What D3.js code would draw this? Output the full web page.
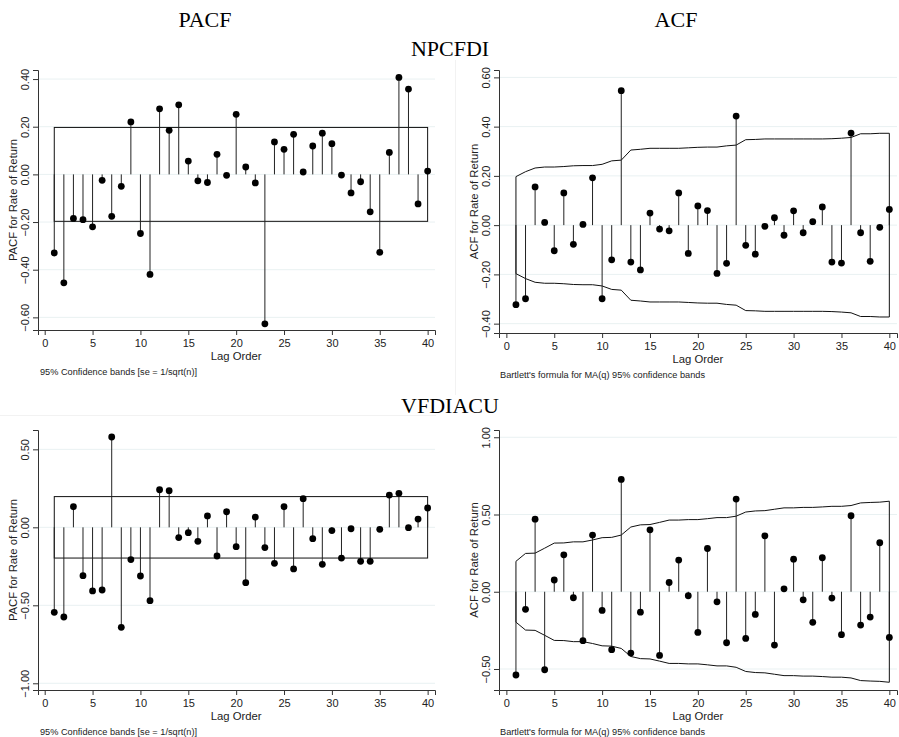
<!DOCTYPE html>
<html>
<head>
<meta charset="utf-8">
<script src="https://cdn.jsdelivr.net/npm/d3@7"></script>
<style>
  body { margin: 0; background: #fff; }
  svg { display: block; }
  text { font-family: "Liberation Sans", Arial, sans-serif; }
  .ttl { font-family: "Liberation Serif", "Times New Roman", serif; font-size: 22px; }
</style>
</head>
<body>
<div id="chart"></div>
<script>
// lags 1..40
var lags = d3.range(1, 41);

// NPCFDI
var npcPacf = [-0.33, -0.455, -0.185, -0.19, -0.22, -0.025, -0.176, -0.05, 0.22, -0.248,
  -0.42, 0.275, 0.185, 0.292, 0.056, -0.027, -0.034, 0.084, -0.004, 0.252,
  0.031, -0.036, -0.627, 0.136, 0.105, 0.168, 0.01, 0.119, 0.173, 0.129,
  -0.003, -0.078, -0.031, -0.157, -0.327, 0.092, 0.407, 0.358, -0.124, 0.014];
var npcAcf = [-0.323, -0.299, 0.155, 0.011, -0.104, 0.131, -0.078, 0.003, 0.192, -0.299,
  -0.141, 0.546, -0.15, -0.182, 0.049, -0.016, -0.023, 0.131, -0.115, 0.078,
  0.059, -0.196, -0.155, 0.443, -0.082, -0.118, -0.005, 0.03, -0.041, 0.058,
  -0.031, 0.014, 0.074, -0.15, -0.154, 0.374, -0.031, -0.147, -0.009, 0.064];
var npcAcfBand = [0.197, 0.217, 0.232, 0.236, 0.236, 0.238, 0.241, 0.242, 0.242, 0.247,
  0.261, 0.264, 0.305, 0.308, 0.312, 0.312, 0.312, 0.312, 0.314, 0.316,
  0.317, 0.317, 0.322, 0.325, 0.347, 0.348, 0.350, 0.350, 0.350, 0.350,
  0.350, 0.350, 0.350, 0.351, 0.353, 0.356, 0.371, 0.371, 0.373, 0.373];

// VFDIACU
var vfdPacf = [-0.545, -0.575, 0.132, -0.31, -0.408, -0.402, 0.579, -0.641, -0.207, -0.312,
  -0.47, 0.241, 0.235, -0.066, -0.034, -0.09, 0.073, -0.184, 0.1, -0.124,
  -0.355, 0.066, -0.13, -0.231, 0.132, -0.267, 0.184, -0.073, -0.237, -0.021,
  -0.197, -0.009, -0.218, -0.218, -0.013, 0.207, 0.218, -0.002, 0.053, 0.124];
var vfdAcf = [-0.539, -0.114, 0.47, -0.505, 0.076, 0.239, -0.039, -0.317, 0.367, -0.121,
  -0.375, 0.727, -0.397, -0.132, 0.401, -0.412, 0.06, 0.205, -0.026, -0.263,
  0.28, -0.065, -0.33, 0.6, -0.302, -0.147, 0.362, -0.345, 0.019, 0.211,
  -0.052, -0.198, 0.22, -0.041, -0.278, 0.492, -0.216, -0.164, 0.317, -0.296];
var vfdAcfBand = [0.197, 0.248, 0.250, 0.282, 0.315, 0.316, 0.323, 0.323, 0.335, 0.350,
  0.352, 0.367, 0.419, 0.433, 0.435, 0.449, 0.464, 0.464, 0.467, 0.467,
  0.473, 0.480, 0.480, 0.489, 0.516, 0.523, 0.525, 0.534, 0.543, 0.543,
  0.546, 0.546, 0.549, 0.553, 0.553, 0.558, 0.575, 0.578, 0.580, 0.586];

var pacfBand = 0.197;

var xTicks = [0, 5, 10, 15, 20, 25, 30, 35, 40];
var yTicksTL = [0.4, 0.2, 0, -0.2, -0.4, -0.6];
var yTicksTR = [0.6, 0.4, 0.2, 0, -0.2, -0.4];
var yTicksBL = [0.5, 0, -0.5, -1];
var yTicksBR = [1, 0.5, 0, -0.5];

var width = 899, height = 737;

var svg = d3.select("#chart").append("svg")
    .attr("width", width)
    .attr("height", height);

// faint graph borders
svg.append("line").attr("x1", 455.5).attr("x2", 455.5).attr("y1", 60).attr("y2", 395)
    .attr("stroke", "#f2f2f2");
svg.append("line").attr("x1", 0).attr("x2", 436).attr("y1", 415.5).attr("y2", 415.5)
    .attr("stroke", "#f2f2f2");

// titles
svg.append("text").attr("class", "ttl").attr("x", 205).attr("y", 27).attr("text-anchor", "middle").text("PACF");
svg.append("text").attr("class", "ttl").attr("x", 676).attr("y", 27).attr("text-anchor", "middle").text("ACF");
svg.append("text").attr("class", "ttl").attr("x", 450).attr("y", 56).attr("text-anchor", "middle").text("NPCFDI");
svg.append("text").attr("class", "ttl").attr("x", 450).attr("y", 413).attr("text-anchor", "middle").text("VFDIACU");

var drawPanel = function(p) {
    var x = d3.scaleLinear().domain(p.xDom).range([p.left, p.right]);
    var y = d3.scaleLinear().domain(p.yDom).range([p.bottom, p.top]);
    var g = svg.append("g");

    // grid
    g.selectAll(".grid").data(p.yTicks).enter().append("line")
        .attr("x1", p.left).attr("x2", p.right)
        .attr("y1", function(d) { return y(d); })
        .attr("y2", function(d) { return y(d); })
        .attr("stroke", "#e9f1f2").attr("stroke-width", 1);

    // confidence bands
    if (p.band) {
        var upper = p.band.map(function(d, i) { return [x(lags[i]), y(d)]; });
        var lower = p.band.map(function(d, i) { return [x(lags[i]), y(-d)]; }).reverse();
        g.append("path")
            .attr("d", d3.line()(upper.concat(lower)) + "Z")
            .attr("fill", "none").attr("stroke", "#111").attr("stroke-width", 1);
    } else {
        g.append("rect")
            .attr("x", x(1)).attr("y", y(pacfBand))
            .attr("width", x(40) - x(1)).attr("height", y(-pacfBand) - y(pacfBand))
            .attr("fill", "none").attr("stroke", "#111").attr("stroke-width", 1);
    }

    // stems
    g.selectAll(".stem").data(p.values).enter().append("line")
        .attr("x1", function(d, i) { return x(lags[i]); })
        .attr("x2", function(d, i) { return x(lags[i]); })
        .attr("y1", y(0))
        .attr("y2", function(d) { return y(d); })
        .attr("stroke", "#222").attr("stroke-width", 1);

    g.selectAll(".dot").data(p.values).enter().append("circle")
        .attr("cx", function(d, i) { return x(lags[i]); })
        .attr("cy", function(d) { return y(d); })
        .attr("r", 3.4)
        .attr("fill", "#000");

    // axes
    var yAxis = g.append("g")
        .attr("transform", "translate(" + p.left + ",0)")
        .call(d3.axisLeft(y).tickValues(p.yTicks).tickSize(5).tickFormat(d3.format(".2f")));
    yAxis.select(".domain").attr("stroke", "#333");
    yAxis.selectAll(".tick line").attr("stroke", "#333");
    yAxis.selectAll("text")
        .attr("transform", "rotate(-90)")
        .attr("x", 0).attr("y", -9)
        .attr("dy", 0)
        .style("text-anchor", "middle")
        .style("font-size", "11px")
        .attr("fill", "#222");

    var xAxis = g.append("g")
        .attr("transform", "translate(0," + p.bottom + ")")
        .call(d3.axisBottom(x).tickValues(xTicks).tickSize(5).tickFormat(d3.format("d")));
    xAxis.select(".domain").attr("stroke", "#333");
    xAxis.selectAll(".tick line").attr("stroke", "#333");
    xAxis.selectAll("text").attr("y", 9).style("font-size", "11px").attr("fill", "#222");

    svg.append("text")
        .attr("transform", "translate(" + (p.left - 21) + "," + ((p.top + p.bottom) / 2) + ") rotate(-90)")
        .attr("text-anchor", "middle")
        .style("font-size", "11.3px")
        .attr("fill", "#222")
        .text(p.yTitle);

    svg.append("text")
        .attr("x", (x(0) + x(40)) / 2).attr("y", p.bottom + 30)
        .attr("text-anchor", "middle")
        .style("font-size", "11.3px")
        .attr("fill", "#222")
        .text("Lag Order");

    svg.append("text")
        .attr("x", p.noteX).attr("y", p.bottom + 45)
        .style("font-size", "9.2px")
        .attr("fill", "#222")
        .text(p.note);
};

drawPanel({
    left: 38, right: 435, top: 70, bottom: 330,
    xDom: [-0.7, 40.77], yDom: [-0.653, 0.438], yTicks: yTicksTL,
    values: npcPacf, yTitle: "PACF for Rate of Return",
    noteX: 40, note: "95% Confidence bands [se = 1/sqrt(n)]"
});
drawPanel({
    left: 499, right: 897, top: 70, bottom: 333,
    xDom: [-0.77, 40.8], yDom: [-0.438, 0.63], yTicks: yTicksTR,
    values: npcAcf, band: npcAcfBand, yTitle: "ACF for Rate of Return",
    noteX: 500, note: "Bartlett's formula for MA(q) 95% confidence bands"
});
drawPanel({
    left: 38, right: 435, top: 430, bottom: 690,
    xDom: [-0.7, 40.77], yDom: [-1.043, 0.624], yTicks: yTicksBL,
    values: vfdPacf, yTitle: "PACF for Rate of Return",
    noteX: 40, note: "95% Confidence bands [se = 1/sqrt(n)]"
});
drawPanel({
    left: 499, right: 897, top: 430, bottom: 690,
    xDom: [-0.77, 40.8], yDom: [-0.636, 1.047], yTicks: yTicksBR,
    values: vfdAcf, band: vfdAcfBand, yTitle: "ACF for Rate of Return",
    noteX: 500, note: "Bartlett's formula for MA(q) 95% confidence bands"
});
</script>
</body>
</html>
